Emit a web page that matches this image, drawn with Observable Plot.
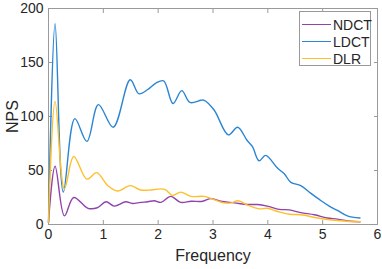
<!DOCTYPE html>
<html>
<head>
<meta charset="utf-8">
<script src="https://cdn.jsdelivr.net/npm/d3@7"></script>
<script src="https://cdn.jsdelivr.net/npm/@observablehq/plot@0.6"></script>
<style>
  html, body { margin: 0; padding: 0; background: #fff; }
  #wrap { position: relative; width: 382px; height: 269px; font-family: Arial, "Liberation Sans", sans-serif; }
  #legend { position: absolute; left: 299px; top: 11px; width: 72px; height: 55px; border: 1px solid #999; background: #fff; box-sizing: border-box; }
  .row { position: absolute; left: 0; height: 17px; display: flex; align-items: center; font-size: 14px; color: #262626; }
  .sw { width: 29px; height: 0; border-top: 1.4px solid; margin-left: 2px; margin-right: 2px; }
</style>
</head>
<body>
<div id="wrap"><div id="legend"></div></div>
<script>
const seriesNames = ["NDCT", "LDCT", "DLR"];
const seriesColors = ["#9143AD", "#2B85D3", "#FFBF2A"];

const ndctFreq = [0, 0.12, 0.29, 0.46, 0.72, 0.89, 1.05, 1.20, 1.41, 1.53, 1.68, 1.81, 1.93, 2.05, 2.23, 2.41, 2.60, 2.81, 2.96, 3.14, 3.39, 3.63, 3.81, 3.99, 4.21, 4.39, 4.60, 4.85, 5.08, 5.27, 5.51, 5.68];
const ndctNps  = [2, 54, 8, 25, 15, 15.5, 21, 17, 21, 19.5, 20.5, 21, 22, 20.5, 26, 20.5, 21.5, 21.5, 24, 21.5, 20, 18.5, 18.5, 17, 14, 13.5, 11, 9, 6, 5, 3, 2.5];

const ldctFreq = [0, 0.12, 0.27, 0.48, 0.70, 0.91, 1.18, 1.49, 1.65, 1.81, 1.96, 2.10, 2.27, 2.43, 2.58, 2.78, 2.84, 3.02, 3.28, 3.45, 3.62, 3.72, 3.84, 3.96, 4.18, 4.30, 4.42, 4.60, 4.78, 4.97, 5.12, 5.27, 5.45, 5.68];
const ldctNps  = [2, 186, 30, 98, 77, 111, 90, 134, 121, 125, 131, 133, 112, 124, 113, 115, 115, 106, 83, 90, 78, 72, 59, 64, 52, 47, 39, 36, 29, 22, 17, 13, 8, 6];

const dlrFreq = [0, 0.12, 0.29, 0.46, 0.70, 0.88, 1.08, 1.26, 1.49, 1.68, 1.87, 2.05, 2.14, 2.26, 2.41, 2.60, 2.84, 3.02, 3.20, 3.33, 3.46, 3.63, 3.84, 3.99, 4.18, 4.39, 4.60, 4.91, 5.21, 5.45, 5.68];
const dlrNps  = [2, 114, 33, 63, 42, 48, 36, 31, 36, 32, 32, 33, 32, 27, 30, 26, 26, 23, 20, 20, 22, 18, 14.5, 15, 12, 9.5, 9, 6, 4, 3, 2.5];

const xTicks = [0, 1, 2, 3, 4, 5, 6];
const yTicks = [0, 50, 100, 150, 200];

const build = (name, fs, vs) => fs.map((f, i) => ({series: name, f, v: vs[i]}));
const data = [
  ...build("NDCT", ndctFreq, ndctNps),
  ...build("LDCT", ldctFreq, ldctNps),
  ...build("DLR", dlrFreq, dlrNps)
];

const fmt = d3.format("d");
const blank = () => "";

const chart = Plot.plot({
  width: 382,
  height: 269,
  marginLeft: 48,
  marginRight: 5,
  marginTop: 8,
  marginBottom: 45,
  style: {fontFamily: "Arial, 'Liberation Sans', sans-serif", fontSize: "14px", color: "#262626", background: "#fff"},
  x: {domain: [0, 6]},
  y: {domain: [0, 200]},
  color: {domain: seriesNames, range: seriesColors},
  marks: [
    Plot.frame({stroke: "#9a9a9a", strokeWidth: 1}),
    Plot.axisX({anchor: "bottom", ticks: xTicks, tickFormat: fmt, tickSize: -4, tickPadding: 9, stroke: "#9a9a9a", fontSize: 14, label: "Frequency", labelAnchor: "center", labelArrow: "none", labelOffset: 36}),
    Plot.axisX({anchor: "top", ticks: xTicks, tickFormat: blank, tickSize: -4, stroke: "#9a9a9a", label: null}),
    Plot.axisY({anchor: "left", ticks: yTicks, tickFormat: fmt, tickSize: -4, tickPadding: 9, stroke: "#9a9a9a", fontSize: 14, label: "NPS", labelAnchor: "center", labelArrow: "none", labelOffset: 42}),
    Plot.axisY({anchor: "right", ticks: yTicks, tickFormat: blank, tickSize: -4, stroke: "#9a9a9a", label: null}),
    Plot.line(data, {x: "f", y: "v", z: "series", stroke: "series", strokeWidth: 1.4, curve: "catmull-rom"})
  ]
});
chart.style.position = "absolute";
chart.style.left = "0";
chart.style.top = "0";
const wrap = document.getElementById("wrap");
wrap.insertBefore(chart, wrap.firstChild);

chart.querySelectorAll("g[aria-label='x-axis label'] text, g[aria-label='y-axis label'] text").forEach(t => t.setAttribute("font-size", "16"));

const legend = document.getElementById("legend");
seriesNames.forEach((n, i) => {
  const row = document.createElement("div");
  row.className = "row";
  row.style.top = (4 + i * 17) + "px";
  const sw = document.createElement("div");
  sw.className = "sw";
  sw.style.borderTopColor = seriesColors[i];
  const tx = document.createElement("span");
  tx.textContent = n;
  row.appendChild(sw);
  row.appendChild(tx);
  legend.appendChild(row);
});
</script>
</body>
</html>
